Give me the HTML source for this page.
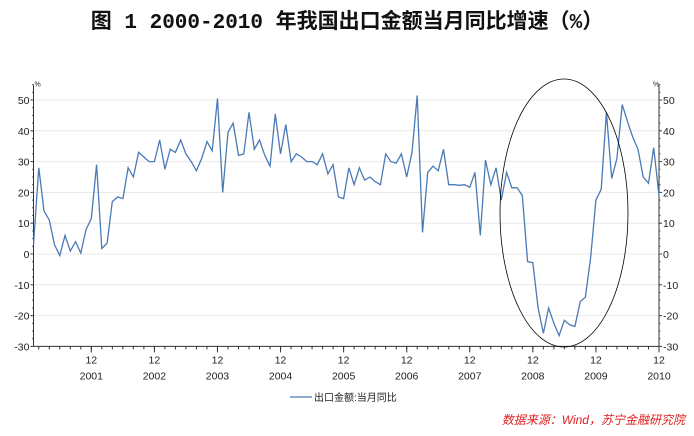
<!DOCTYPE html>
<html><head><meta charset="utf-8"><style>
body{margin:0;background:#fff;width:694px;height:431px;overflow:hidden}
text{font-family:"Liberation Sans","Noto Sans CJK SC",sans-serif}
</style></head><body>
<svg id="s" width="694" height="431" xmlns="http://www.w3.org/2000/svg">
<text x="347" y="28" text-anchor="middle" font-size="21" font-weight="bold" style="font-family:'Liberation Mono','Noto Sans CJK SC',sans-serif" fill="#111">图 1 2000-2010 年我国出口金额当月同比增速（%）</text>
<g id="g"></g>
<polyline id="p" fill="none" stroke="#4a7ab5" stroke-width="1.3"/>
<ellipse cx="564" cy="213" rx="64" ry="134" fill="none" stroke="#000" stroke-width="0.8"/>
<line x1="290" y1="397" x2="312" y2="397" stroke="#4a7ab5" stroke-width="1.3"/>
<text x="314" y="401" font-size="10" fill="#222">出口金额:当月同比</text>
<text x="685" y="424" text-anchor="end" font-size="12" font-style="italic" fill="#e02020">数据来源：Wind，苏宁金融研究院</text>
</svg>
<script>
var d=[3,28,14,11,3,-0.5,6,1,4,0.3,8,11.5,29,1.8,3.5,17,18.5,18,28,25,33,31.5,30,30,37,27.5,34,33,37,32.5,30,27,31,36.5,33.5,50.5,20,39.5,42.5,32,32.5,46,34,37,32,28.5,45.5,32.5,42,30,32.5,31.5,30,30,29,32.5,26,29,18.5,18,28,22.5,28,24,25,23.5,22.5,32.5,30,29.5,32.5,25,33,51.5,7,26.5,28.5,27,34,22.5,22.5,22.3,22.5,21.7,26.5,6,30.5,22.5,28,17.5,26.5,21.5,21.5,19,-2.5,-2.8,-17.5,-25.7,-17.5,-22.5,-26.5,-21.5,-23,-23.5,-15.5,-14,-1,17.5,21,46,24.5,31,48.5,43,38,34,25,23,34.5,19];
var L=33.5,R=659,x0=L,dx=(R-L)/119;
function Y(v){return 254-v*3.08;}
var pts=d.map(function(v,i){return (x0+i*dx).toFixed(1)+","+Y(v).toFixed(1)}).join(" ");
document.getElementById("p").setAttribute("points",pts);
var h="";
for(var v=-30;v<=50;v+=10){var y=Y(v);
 if(v>-30)h+='<line x1="'+L+'" x2="'+R+'" y1="'+y+'" y2="'+y+'" stroke="#e8e8e8"/>';
 h+='<text x="'+(L-4)+'" y="'+(y+4)+'" font-size="10.5" text-anchor="end" fill="#222">'+v+'</text>';
 h+='<text x="'+(R+4)+'" y="'+(y+4)+'" font-size="10.5" fill="#222">'+v+'</text>';
 h+='<line x1="'+(L-3)+'" x2="'+L+'" y1="'+y+'" y2="'+y+'" stroke="#333"/><line x1="'+R+'" x2="'+(R+3)+'" y1="'+y+'" y2="'+y+'" stroke="#333"/>';
}
for(var v=-30;v<=55;v+=2.5){var y=Y(v);h+='<line x1="'+(L-1.5)+'" x2="'+L+'" y1="'+y+'" y2="'+y+'" stroke="#666"/><line x1="'+R+'" x2="'+(R+1.5)+'" y1="'+y+'" y2="'+y+'" stroke="#666"/>';}
var yb=Y(-30);
h+='<line x1="'+L+'" x2="'+L+'" y1="'+Y(55)+'" y2="'+yb+'" stroke="#333"/>';
h+='<line x1="'+R+'" x2="'+R+'" y1="'+Y(55)+'" y2="'+yb+'" stroke="#333"/>';
h+='<line x1="'+L+'" x2="'+R+'" y1="'+yb+'" y2="'+yb+'" stroke="#333"/>';
h+='<text x="'+(L+1)+'" y="'+(Y(55)+2)+'" font-size="7" fill="#222">%</text><text x="'+(R-6)+'" y="'+(Y(55)+2)+'" font-size="7" fill="#222">%</text>';
for(var i=0;i<120;i+=2){var x=x0+i*dx;var big=(i%12==11);}
for(var i=1;i<120;i+=2){var x=x0+i*dx;h+='<line x1="'+x+'" x2="'+x+'" y1="'+yb+'" y2="'+(yb+3)+'" stroke="#333"/>';}
for(var k=0;k<10;k++){var x=x0+(11+12*k)*dx;
 h+='<line x1="'+x+'" x2="'+x+'" y1="'+yb+'" y2="'+(yb+6)+'" stroke="#333"/>';
 h+='<text x="'+x+'" y="'+(yb+17)+'" font-size="10.5" text-anchor="middle" fill="#222">12</text>';
 h+='<text x="'+x+'" y="'+(yb+33)+'" font-size="10.5" text-anchor="middle" fill="#222">'+(2001+k)+'</text>';}
document.getElementById("g").innerHTML=h;
</script>
</body></html>
